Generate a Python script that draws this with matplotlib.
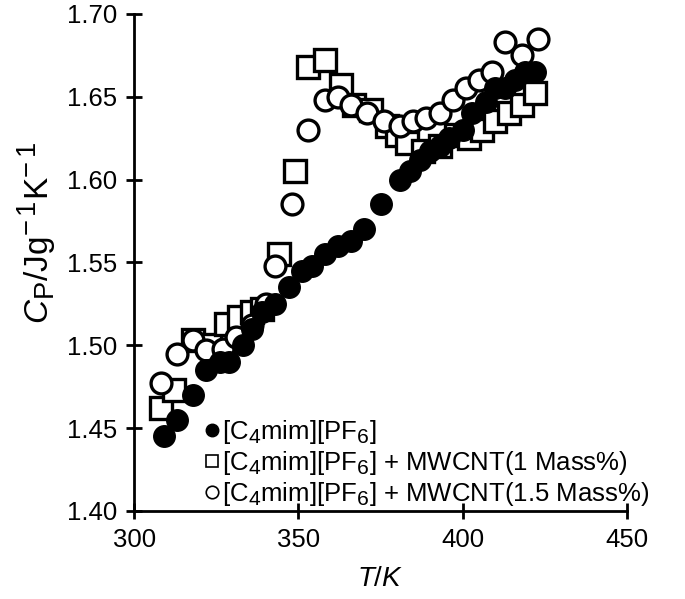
import matplotlib.pyplot as plt
import matplotlib._mathtext as mathtext_internal
from matplotlib.lines import Line2D

plt.rcParams['font.family'] = ['Liberation Sans', 'DejaVu Sans']
plt.rcParams['mathtext.fontset'] = 'custom'
plt.rcParams['mathtext.rm'] = 'Liberation Sans'
plt.rcParams['mathtext.it'] = 'Liberation Sans:italic'
# larger super/subscripts, as in the original figure
mathtext_internal.SHRINK_FACTOR = 0.82

# [C4mim][PF6]
t_pure = [309, 313, 318, 322, 326, 329, 333, 336, 339, 343, 347, 351, 354, 358,
          362, 366, 370, 375, 381, 384, 387, 390, 393, 396, 400, 403, 407, 410,
          413, 416, 419, 422]
cp_pure = [1.445, 1.455, 1.470, 1.485, 1.490, 1.490, 1.500, 1.510, 1.520, 1.525,
           1.535, 1.545, 1.548, 1.555, 1.560, 1.563, 1.570, 1.585, 1.600, 1.605,
           1.612, 1.617, 1.620, 1.625, 1.630, 1.640, 1.647, 1.655, 1.655, 1.660,
           1.665, 1.665]

# + MWCNT (1 Mass%)
t_1 = [308, 312, 318, 323, 328, 332, 336, 339, 344, 349, 353, 358, 363, 367,
       372, 377, 380, 383, 388, 393, 398, 402, 406, 410, 414, 418, 422]
cp_1 = [1.462, 1.473, 1.503, 1.500, 1.513, 1.517, 1.520, 1.522, 1.555, 1.605,
        1.668, 1.672, 1.657, 1.645, 1.642, 1.632, 1.627, 1.622, 1.617, 1.620,
        1.627, 1.625, 1.630, 1.635, 1.640, 1.645, 1.652]

# + MWCNT (1.5 Mass%)
t_15 = [308, 313, 318, 322, 327, 331, 336, 340, 343, 348, 353, 358, 362, 366,
        371, 376, 381, 385, 389, 393, 397, 401, 405, 409, 413, 418, 423]
cp_15 = [1.477, 1.495, 1.503, 1.497, 1.498, 1.505, 1.512, 1.525, 1.548, 1.585,
         1.630, 1.648, 1.650, 1.645, 1.640, 1.635, 1.632, 1.635, 1.637, 1.640,
         1.648, 1.655, 1.660, 1.665, 1.683, 1.675, 1.685]

labels = ['[C$_4$mim][PF$_6$]',
          '[C$_4$mim][PF$_6$] + MWCNT(1 Mass%)',
          '[C$_4$mim][PF$_6$] + MWCNT(1.5 Mass%)']

fig = plt.figure(figsize=(6.85, 5.99), dpi=100)
ax = fig.add_axes([0.196, 0.147, 0.719, 0.830])

ax.plot(t_1, cp_1, 's', ms=15.5, mfc='white', mec='black', mew=2.4, ls='none')
ax.plot(t_15, cp_15, 'o', ms=15, mfc='white', mec='black', mew=2.4, ls='none')
ax.plot(t_pure, cp_pure, 'o', ms=15.5, mfc='black', mec='black', ls='none')

handles = [
    Line2D([], [], marker='o', ls='none', ms=9, mfc='black', mec='black'),
    Line2D([], [], marker='s', ls='none', ms=9, mfc='white', mec='black', mew=1.2),
    Line2D([], [], marker='o', ls='none', ms=9, mfc='white', mec='black', mew=1.2),
]
ax.legend(handles, labels, loc='lower left', bbox_to_anchor=(0.11, -0.03),
          frameon=False, fontsize=18.5, handlelength=0.45, handletextpad=0.15,
          labelspacing=0.12, borderaxespad=0.3)

ax.set_xlim(300, 450)
ax.set_ylim(1.40, 1.70)
ax.set_xticks([300, 350, 400, 450])
ax.set_yticks([1.40, 1.45, 1.50, 1.55, 1.60, 1.65, 1.70])
ax.set_yticklabels(['1.40', '1.45', '1.50', '1.55', '1.60', '1.65', '1.70'])

for s in ['top', 'right']:
    ax.spines[s].set_visible(False)
for s in ['left', 'bottom']:
    ax.spines[s].set_linewidth(2)
ax.tick_params(direction='inout', length=12, width=2, labelsize=18.5, pad=6)

ax.set_xlabel('$T$/$K$', fontsize=20, labelpad=10)
ax.set_ylabel('$C_{\\mathrm{P}}$/Jg$^{-\\,1}$K$^{-\\,1}$', fontsize=24)
ax.yaxis.set_label_coords(-0.155, 0.56)

plt.savefig('out.png', dpi=100)
